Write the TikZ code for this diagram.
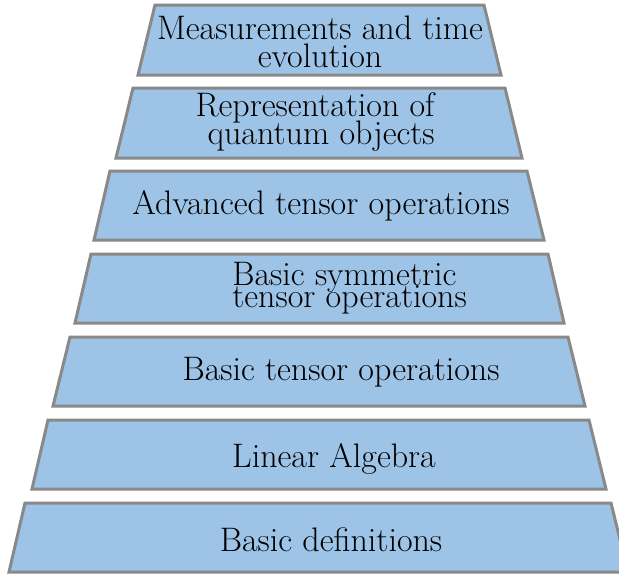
\documentclass[tikz,border=0pt]{standalone}
\definecolor{bleuclair}{RGB}{157,195,230}
\definecolor{bordgris}{RGB}{137,137,137}
\begin{document}
\begin{tikzpicture}[x=0.5pt, y=-0.5pt,
		couche/.style={draw=bordgris, fill=bleuclair, line width=1.5pt},
		texte/.style={font=\fontsize{17}{20}\selectfont, inner sep=0pt}]
		\useasboundingbox (0,0) rectangle (619,573);
		
		% couches de la pyramide, de haut en bas
		\draw [couche] (155,5) -- (484,5) -- (501,75) -- (138,75) -- cycle;
		\draw [couche] (133,88) -- (505,88) -- (522,158) -- (116,158) -- cycle;
		\draw [couche] (110,171) -- (527,171) -- (544,240) -- (94,240) -- cycle;
		\draw [couche] (91,254) -- (548,254) -- (564,323) -- (75,323) -- cycle;
		\draw [couche] (70,337) -- (568,337) -- (585,406) -- (53,406) -- cycle;
		\draw [couche] (48,420) -- (589,420) -- (606,489) -- (32,489) -- cycle;
		\draw [couche] (25,503) -- (611,503) -- (628,572) -- (9,572) -- cycle;
		
		% textes
		\node [texte, align=center] (mesure) at (320,42) {Measurements and time\\[-6pt]evolution};
		\node [texte, align=right, anchor=east] (repr) at (435,122) {Representation of\\[-6pt]quantum objects};
		\node [texte] (avance) at (321,206) {Advanced tensor operations};
		\node [texte, align=left, anchor=west] (symetrique) at (232,288) {Basic symmetric\\[-9pt]tensor operations};
		\node [texte] (tenseur) at (341,372) {Basic tensor operations};
		\node [texte] (algebre) at (334,459) {Linear Algebra};
		\node [texte] (definitions) at (331,540) {Basic definitions};
	\end{tikzpicture}
\end{document}
